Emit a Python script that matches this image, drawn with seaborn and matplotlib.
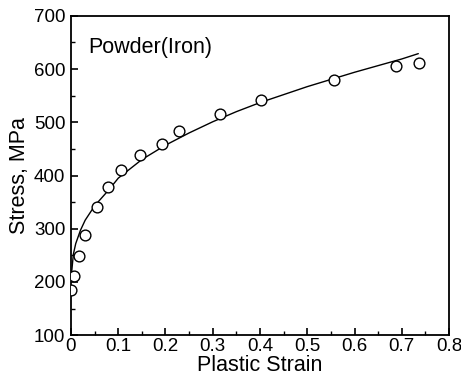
import numpy as np
import pandas as pd
import seaborn as sns
import matplotlib.pyplot as plt
from matplotlib.ticker import MultipleLocator

strain_pts = [0.0, 0.007, 0.018, 0.030, 0.055, 0.078, 0.106, 0.146, 0.193, 0.228,
              0.316, 0.403, 0.556, 0.688, 0.737]
stress_pts = [184, 211, 249, 289, 340, 378, 410, 438, 460, 483,
              516, 541, 580, 605, 612]

# fitted curve
strain_fit = [0.0, 0.005, 0.01, 0.02, 0.03, 0.05, 0.08, 0.10, 0.15, 0.20,
              0.25, 0.30, 0.35, 0.40, 0.50, 0.60, 0.70, 0.735]
stress_fit = [205, 252, 272, 297, 316, 343, 373, 395, 430, 457,
              480, 501, 520, 537, 567, 594, 619, 629]
xtick_labels = ['0', '0.1', '0.2', '0.3', '0.4', '0.5', '0.6', '0.7', '0.8']

df_pts = pd.DataFrame({'strain': strain_pts, 'stress': stress_pts})
df_fit = pd.DataFrame({'strain': strain_fit, 'stress': stress_fit})

sns.set_style('ticks', {'axes.edgecolor': 'black', 'text.color': 'black',
                        'axes.labelcolor': 'black', 'xtick.color': 'black',
                        'ytick.color': 'black'})
plt.rcParams['font.family'] = ['Liberation Sans', 'DejaVu Sans']

fig = plt.figure(figsize=(4.61, 3.87), dpi=100)
ax = fig.add_axes([0.154, 0.134, 0.82, 0.825])

sns.lineplot(data=df_fit, x='strain', y='stress', color='black', linewidth=1.0, ax=ax)
sns.scatterplot(data=df_pts, x='strain', y='stress', s=60, facecolor='white',
                edgecolor='black', linewidth=1.0, ax=ax, zorder=3)

ax.set_xlim(0, 0.8)
ax.set_ylim(100, 700)
ax.set_xticks(np.arange(0, 0.81, 0.1))
ax.set_xticklabels(xtick_labels)
ax.xaxis.set_minor_locator(MultipleLocator(0.05))
ax.yaxis.set_major_locator(MultipleLocator(100))
ax.yaxis.set_minor_locator(MultipleLocator(50))

ax.tick_params(which='both', direction='in', top=False, right=False, labelsize=13.5,
               colors='black')
ax.tick_params(axis='x', pad=2)
ax.tick_params(axis='y', pad=4)
ax.tick_params(which='major', length=5, width=1.2)
ax.tick_params(which='minor', length=3, width=1.0)
for sp in ax.spines.values():
    sp.set_visible(True)
    sp.set_linewidth(1.3)
    sp.set_color('black')

ax.set_xlabel('Plastic Strain', fontsize=15.5, labelpad=0, color='black')
ax.set_ylabel('Stress, MPa', fontsize=15.5, labelpad=3, color='black')
ax.text(0.045, 0.935, 'Powder(Iron)', transform=ax.transAxes, fontsize=15.5,
        va='top', ha='left', color='black')

fig.savefig('out.png', dpi=100)
